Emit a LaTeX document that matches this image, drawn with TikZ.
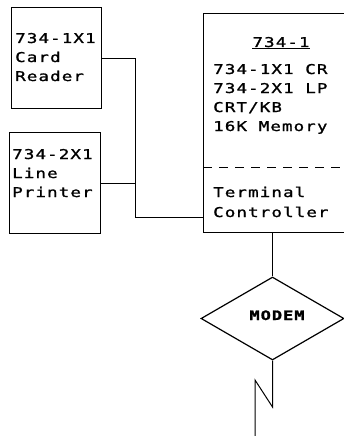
\documentclass[tikz,border=0pt]{standalone}
\usepackage{fontspec}
\usetikzlibrary{shapes.geometric}
\newfontfamily\dotfont[FakeStretch=1.3,LetterSpace=8,FakeBold=1.2]{DejaVu Sans Mono}
\begin{document}
\begin{tikzpicture}[x=1pt,y=-1pt,
  box/.style={draw,line width=1.1pt,rectangle,inner sep=0pt,anchor=north west},
  txt/.style={anchor=base west,inner sep=0pt,font=\dotfont\fontsize{13.5}{19}\selectfont},
  ctxt/.style={anchor=base,inner sep=0pt,font=\dotfont\fontsize{13.5}{19}\selectfont},
  wire/.style={line width=1pt}]
\useasboundingbox (0,0) rectangle (344,436);
% boxes
\node[box,minimum width=90pt,minimum height=101pt] (cr) at (11,7) {};
\node[box,minimum width=91pt,minimum height=101pt] (lp) at (9,132) {};
\node[box,minimum width=152pt,minimum height=219pt] (main) at (203,13) {};
\node[draw,line width=1.2pt,diamond,inner sep=0pt,minimum width=143pt,minimum height=83pt] (modem) at (272.5,318.5) {};
% texts
\node[txt] (cr1) at (15,43) {734-1X1};
\node[txt] (cr2) at (15,62) {Card};
\node[txt] (cr3) at (15,81) {Reader};
\node[txt] (lp1) at (12,159) {734-2X1};
\node[txt] (lp2) at (12,178) {Line};
\node[txt] (lp3) at (12,197) {Printer};
\node[ctxt] (m0) at (281,47) {\underline{734-1}};
\node[txt] (m1) at (213,74) {734-1X1 CR};
\node[txt] (m2) at (213,93) {734-2X1 LP};
\node[txt] (m3) at (213,112) {CRT/KB};
\node[txt] (m4) at (213,131) {16K Memory};
\node[txt] (m5) at (213,197) {Terminal};
\node[txt] (m6) at (213,217) {Controller};
\node[ctxt,font=\dotfont\bfseries\fontsize{13}{19}\selectfont] (mt) at (277,320) {MODEM};
% dashed divider
\draw[line width=1pt,dash pattern=on 9pt off 7pt] (main.west |- 0,167) -- (main.east |- 0,167);
% connectors
\coordinate (bus) at (135,217);
\coordinate (busin) at (203,217);
\draw[wire] (cr.east) -| (bus) -- (busin);
\draw[wire] (lp.east) -- (lp.east -| bus);
\draw[wire] (main.south -| modem.north) -- (modem.north);
\coordinate (z1) at (273,407);
\coordinate (z2) at (255,380);
\coordinate (z3) at (255,440);
\draw[wire] (modem.south) -- (modem.south |- z1) -- (z2) -- (z3);
\end{tikzpicture}
\end{document}
